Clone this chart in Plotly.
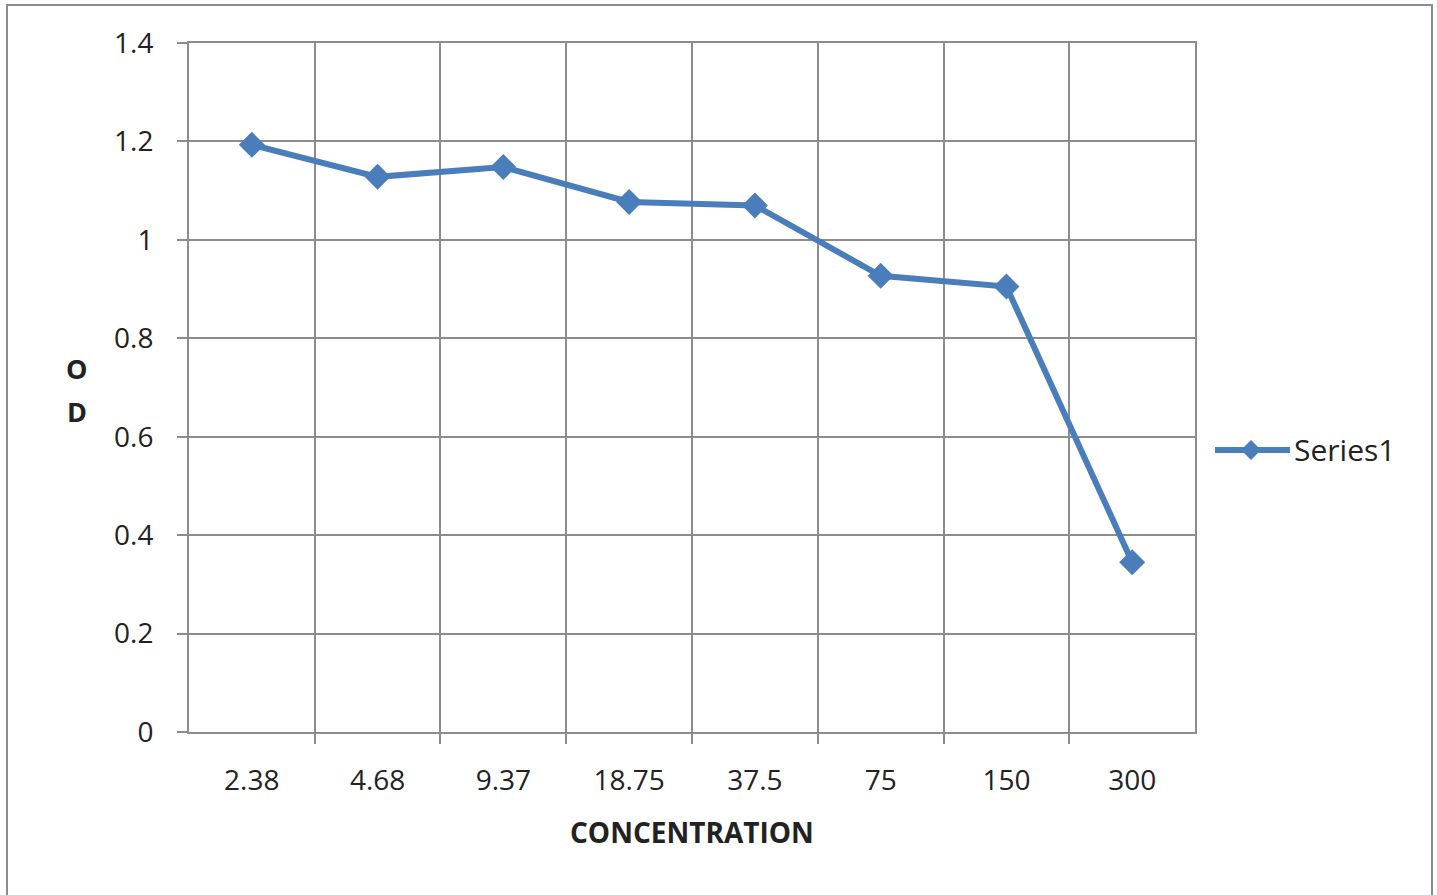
import plotly.graph_objects as go

concentration = ["2.38", "4.68", "9.37", "18.75", "37.5", "75", "150", "300"]
od_values = [1.193, 1.128, 1.148, 1.077, 1.070, 0.927, 0.905, 0.345]
y_ticks = [0, 0.2, 0.4, 0.6, 0.8, 1, 1.2, 1.4]
series_name = "Series1"

blue = "#4A7EBB"
grid = "#8C8C8C"
font_family = "Open Sans, Noto Sans, sans-serif"

# plot area in pixels, used to place paper-anchored decorations
PW, PH = 1006, 689
def px_x(p):
    return (p - 189) / PW
def px_y(p):
    return (732 - p) / PH

fig = go.Figure()
fig.add_trace(go.Scatter(
    x=concentration, y=od_values, name=series_name, mode="lines+markers",
    line=dict(color=blue, width=6),
    marker=dict(symbol="diamond", size=20, color=blue),
    showlegend=False,
))

# legend key drawn as a long line with a diamond, Excel-style
ly = px_y(450)
lx0, lx1, lxm = px_x(1215), px_x(1290), px_x(1251)
dx, dy = 10 / PW, 10 / PH
legend_shapes = [
    dict(type="line", xref="paper", yref="paper", x0=lx0, x1=lx1, y0=ly, y1=ly,
         line=dict(color=blue, width=6)),
    dict(type="path", xref="paper", yref="paper",
         path=f"M {lxm - dx} {ly} L {lxm} {ly + dy} L {lxm + dx} {ly} L {lxm} {ly - dy} Z",
         fillcolor=blue, line=dict(color=blue, width=0)),
]

fig.update_layout(
    width=1437, height=895,
    margin=dict(l=189, r=242, t=43, b=163),
    paper_bgcolor="white", plot_bgcolor="white",
    font=dict(family=font_family, size=28, color="#222222"),
    showlegend=False,
    xaxis=dict(
        type="category", tickson="boundaries", ticks="outside", ticklen=10,
        tickcolor=grid, tickwidth=2, showgrid=True, gridcolor=grid, gridwidth=2,
        showline=True, linecolor=grid, linewidth=2, mirror=True,
        tickfont=dict(size=28), ticklabelstandoff=22,
    ),
    yaxis=dict(
        range=[0, 1.4], tickvals=y_ticks, ticktext=[f"{v:g}" for v in y_ticks],
        ticks="outside", ticklen=10, tickcolor=grid, tickwidth=2,
        showgrid=True, gridcolor=grid, gridwidth=2,
        showline=True, linecolor=grid, linewidth=2, mirror=True,
        zeroline=False, tickfont=dict(size=28), ticklabelstandoff=18,
    ),
    shapes=[dict(type="rect", xref="paper", yref="paper",
                 x0=px_x(7), x1=px_x(1432), y0=px_y(935), y1=px_y(5),
                 line=dict(color=grid, width=2), fillcolor="rgba(0,0,0,0)")]
           + legend_shapes,
    annotations=[
        dict(text="<b>CONCENTRATION</b>", xref="paper", yref="paper",
             x=0.5, y=px_y(832), xanchor="center", yanchor="middle",
             showarrow=False, font=dict(size=28)),
        dict(text="<b>O</b>", xref="paper", yref="paper",
             x=px_x(77), y=px_y(368), xanchor="center", yanchor="middle",
             showarrow=False, font=dict(size=27)),
        dict(text="<b>D</b>", xref="paper", yref="paper",
             x=px_x(77), y=px_y(412), xanchor="center", yanchor="middle",
             showarrow=False, font=dict(size=27)),
        dict(text=series_name, xref="paper", yref="paper",
             x=px_x(1292), y=ly, xanchor="left", yanchor="middle",
             showarrow=False, font=dict(size=30)),
    ],
)

fig.write_html("out.html")
